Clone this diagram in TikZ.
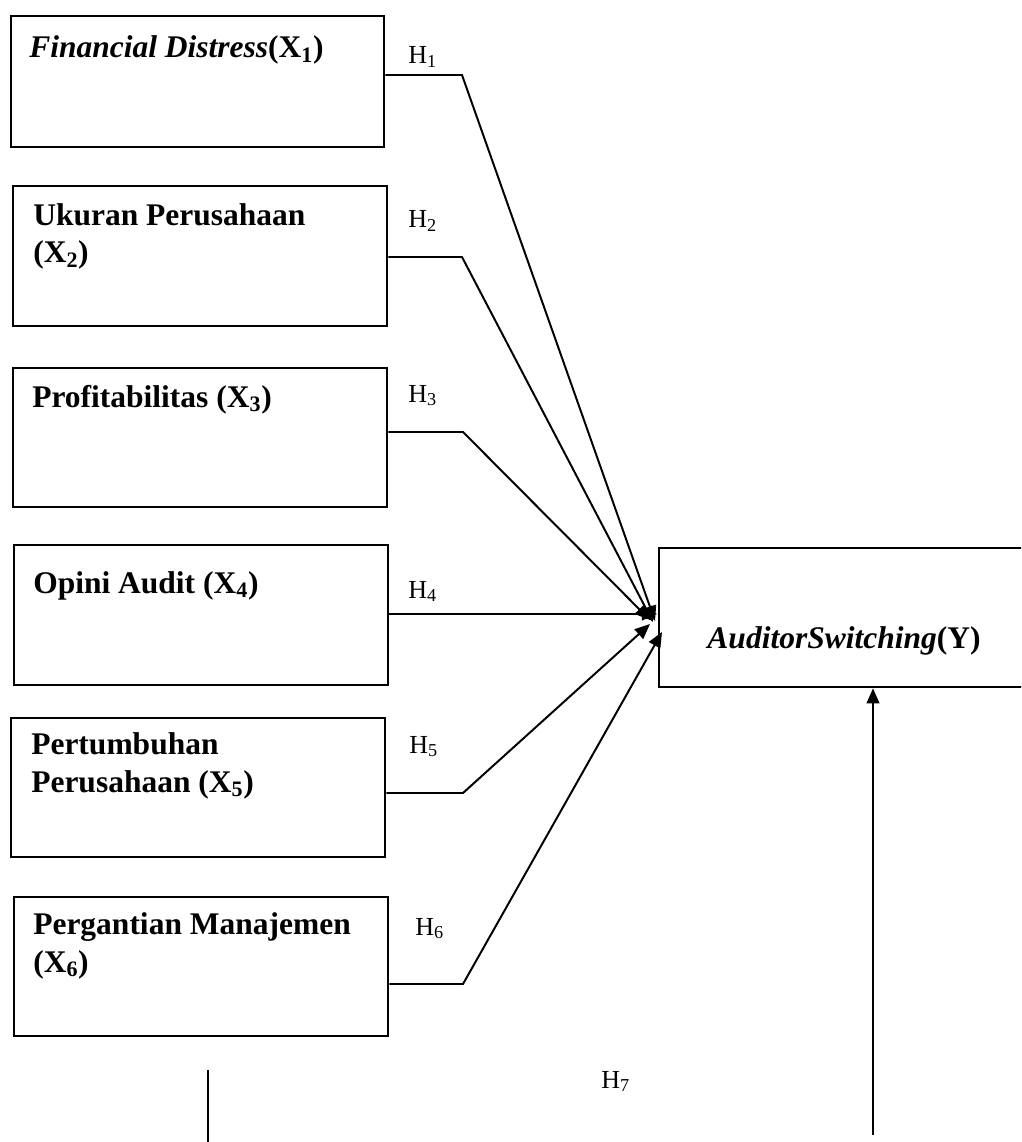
\documentclass[tikz,border=0pt]{standalone}
\usepackage{fontspec}
\setmainfont{Liberation Serif}
\usetikzlibrary{arrows.meta, calc}

\begin{document}
\begin{tikzpicture}[
    x=0.025cm, y=-0.025cm,
    varbox/.style={draw=black, line width=1.6pt, anchor=north west, inner sep=0pt, minimum width=9.35cm, minimum height=3.475cm},
    vartext/.style={anchor=base west, inner sep=0pt, align=left, font={\fontsize{22.4}{26.5}\selectfont\bfseries}},
    hyp/.style={anchor=base west, inner sep=0pt, font={\fontsize{18.5}{20}\selectfont}},
    link/.style={line width=1.4pt, -{Triangle[length=0.38cm, width=0.32cm]}}
  ]
    \useasboundingbox (0,0) rectangle (1021,1142);
    \clip (0,0) rectangle (1021,1142);

    % Variabel independen (kiri)
    \node[varbox, minimum width=9.325cm, minimum height=3.275cm] (x1) at (10,15) {};
    \node[vartext] (l1) at (29,58) {{\itshape Financial Distress}(X\textsubscript{1})};
    \node[varbox, minimum height=3.5cm] (x2) at (12,185) {};
    \node[vartext] (l2) at (33,263) {Ukuran Perusahaan\\(X\textsubscript{2})};
    \node[varbox] (x3) at (12,367) {};
    \node[vartext] (l3) at (32,407) {Profitabilitas (X\textsubscript{3})};
    \node[varbox, minimum height=3.5cm] (x4) at (13,544) {};
    \node[vartext] (l4) at (33,593) {Opini Audit (X\textsubscript{4})};
    \node[varbox] (x5) at (10,717) {};
    \node[vartext] (l5) at (31,792) {Pertumbuhan\\Perusahaan (X\textsubscript{5})};
    \node[varbox] (x6) at (13,896) {};
    \node[vartext] (l6) at (33,972) {Pergantian Manajemen\\(X\textsubscript{6})};

    % Variabel dependen (kanan)
    \node[varbox, minimum width=9.3cm] (y) at (658,547) {};
    \node[vartext, anchor=base] (ly) at (844,648) {{\itshape AuditorSwitching}(Y)};

    % Hipotesis
    \node[hyp] (h1) at (408,64) {H\textsubscript{1}};
    \node[hyp] (h2) at (408,228) {H\textsubscript{2}};
    \node[hyp] (h3) at (408,402) {H\textsubscript{3}};
    \node[hyp] (h4) at (408,598) {H\textsubscript{4}};
    \node[hyp] (h5) at (409,753) {H\textsubscript{5}};
    \node[hyp] (h6) at (415,935) {H\textsubscript{6}};
    \node[hyp] (h7) at (601,1088) {H\textsubscript{7}};

    % Titik belok dan ujung panah
    \coordinate (k1) at (462,75);
    \coordinate (k2) at (462,257);
    \coordinate (k3) at (463,432);
    \coordinate (k4) at (463,614);
    \coordinate (k5) at (463,793);
    \coordinate (k6) at (463,984);
    \coordinate (t1) at (655,621);
    \coordinate (t2) at (653,622);
    \coordinate (t3) at (650,620);
    \coordinate (t4) at (657,614);
    \coordinate (t5) at (650,624);
    \coordinate (t6) at (662,632);

    % Panah
    \draw[link] (x1.east |- k1) -- (k1) -- (t1);
    \draw[link] (x2.east |- k2) -- (k2) -- (t2);
    \draw[link] (x3.east |- k3) -- (k3) -- (t3);
    \draw[link] (x4.east |- k4) -- (k4) -- (t4);
    \draw[link] (x5.east |- k5) -- (k5) -- (t5);
    \draw[link] (x6.east |- k6) -- (k6) -- (t6);

    % Garis bawah
    \coordinate (p1) at (208,1070);
    \coordinate (p2) at (208,1142);
    \draw[line width=1.4pt] (p1) -- (p2);
    \coordinate (q1) at (873,1135);
    \draw[link] (q1) -- (q1 |- y.south);
\end{tikzpicture}
\end{document}
